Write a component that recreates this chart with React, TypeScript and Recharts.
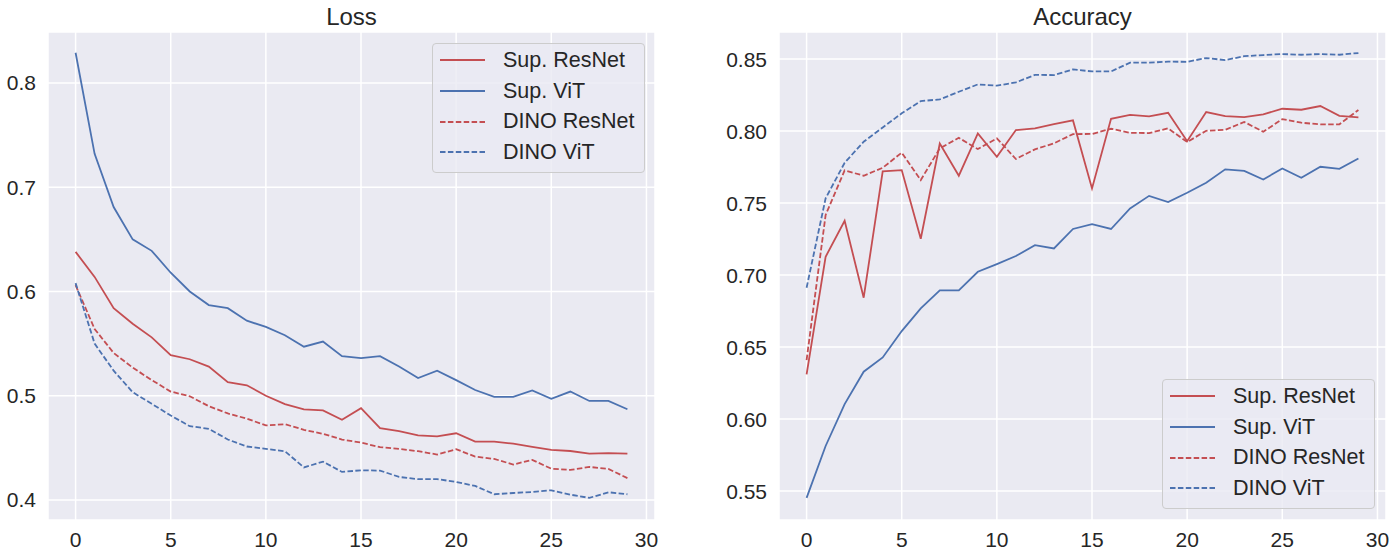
import { LineChart, Line, XAxis, YAxis, CartesianGrid, Legend } from 'recharts';

// epochs on the x axis
const epochs = [
  0, 1, 2, 3, 4, 5, 6, 7, 8, 9, 10, 11, 12, 13, 14, 15, 16, 17, 18, 19, 20, 21,
  22, 23, 24, 25, 26, 27, 28, 29,
];

const lossSupResNet = [
  0.638, 0.614, 0.584, 0.569, 0.556, 0.539, 0.535, 0.528, 0.513, 0.51, 0.5, 0.492,
  0.487, 0.486, 0.477, 0.488, 0.469, 0.466, 0.462, 0.461, 0.464, 0.456, 0.456,
  0.454, 0.451, 0.448, 0.447, 0.4445, 0.445, 0.4445,
];
const lossSupViT = [
  0.829, 0.732, 0.681, 0.65, 0.639, 0.618, 0.6, 0.587, 0.584, 0.572, 0.566, 0.558,
  0.547, 0.552, 0.538, 0.536, 0.538, 0.528, 0.517, 0.524, 0.515, 0.5055, 0.499,
  0.499, 0.505, 0.497, 0.504, 0.495, 0.495, 0.487,
];
const lossDinoResNet = [
  0.606, 0.564, 0.541, 0.527, 0.515, 0.504, 0.4995, 0.49, 0.483, 0.478, 0.4715,
  0.4727, 0.4673, 0.4635, 0.458, 0.455, 0.4507, 0.449, 0.4468, 0.4436, 0.4487,
  0.4416, 0.4394, 0.434, 0.4385, 0.43, 0.4288, 0.4317, 0.4298, 0.421,
];
const lossDinoViT = [
  0.608, 0.55, 0.524, 0.5034, 0.4923, 0.481, 0.4708, 0.4683, 0.458, 0.4513, 0.449,
  0.4468, 0.4312, 0.4368, 0.4269, 0.4285, 0.4282, 0.4221, 0.42, 0.42, 0.4173,
  0.4135, 0.4055, 0.4067, 0.4077, 0.4093, 0.4051, 0.402, 0.4074, 0.4055,
];

const accSupResNet = [
  0.631, 0.7127, 0.7377, 0.6843, 0.772, 0.7729, 0.7252, 0.7914, 0.769, 0.7984,
  0.7822, 0.8007, 0.8019, 0.8048, 0.8074, 0.7602, 0.8085, 0.8113, 0.8102, 0.8127,
  0.793, 0.8132, 0.8104, 0.8097, 0.8116, 0.8155, 0.8148, 0.8174, 0.8106, 0.8095,
];
const accSupViT = [
  0.5453, 0.5813, 0.6104, 0.6329, 0.6428, 0.6611, 0.6768, 0.6894, 0.6894, 0.7023,
  0.7076, 0.7132, 0.7208, 0.7185, 0.732, 0.7354, 0.732, 0.7463, 0.755, 0.7507,
  0.7572, 0.7641, 0.7734, 0.7724, 0.7664, 0.774, 0.7676, 0.7752, 0.7738, 0.781,
];
const accDinoResNet = [
  0.641, 0.7417, 0.7727, 0.769, 0.7745, 0.785, 0.766, 0.788, 0.7953, 0.7875,
  0.7949, 0.7806, 0.7873, 0.7915, 0.7979, 0.798, 0.8016, 0.7988, 0.7986, 0.8019,
  0.7924, 0.8002, 0.8009, 0.8063, 0.7995, 0.8083, 0.8058, 0.8046, 0.8047, 0.8146,
];
const accDinoViT = [
  0.6912, 0.7533, 0.778, 0.7926, 0.8025, 0.8123, 0.8208, 0.822, 0.8273, 0.8324,
  0.8315, 0.8338, 0.839, 0.8389, 0.8428, 0.8414, 0.8414, 0.8475, 0.8475, 0.8482,
  0.8481, 0.8507, 0.8493, 0.852, 0.8528, 0.8535, 0.853, 0.8535, 0.853, 0.8542,
];

const xTicks = [0, 5, 10, 15, 20, 25, 30];
const lossTicks = [0.4, 0.5, 0.6, 0.7, 0.8];
const accTicks = [0.55, 0.6, 0.65, 0.7, 0.75, 0.8, 0.85];
const seriesNames = ['Sup. ResNet', 'Sup. ViT', 'DINO ResNet', 'DINO ViT'];

const RED = '#C44E52';
const BLUE = '#4C72B0';
const TEXT = '#262626';
const FONT = '"Liberation Sans", Arial, sans-serif';

const seriesStyle = [
  { key: 's0', color: RED, dash: undefined },
  { key: 's1', color: BLUE, dash: undefined },
  { key: 's2', color: RED, dash: '5.5 2.4' },
  { key: 's3', color: BLUE, dash: '5.5 2.4' },
];

function buildRows(series: number[][]) {
  return epochs.map((epoch, i) => {
    const row: Record<string, number> = { epoch };
    series.forEach((vals, s) => {
      row[seriesStyle[s].key] = vals[i];
    });
    return row;
  });
}

const lossRows = buildRows([lossSupResNet, lossSupViT, lossDinoResNet, lossDinoViT]);
const accRows = buildRows([accSupResNet, accSupViT, accDinoResNet, accDinoViT]);

function LegendBox() {
  return (
    <div
      style={{
        boxSizing: 'border-box',
        width: 213,
        height: 130,
        paddingTop: 1,
        border: '1px solid #cccccc',
        borderRadius: 4,
        background: 'rgba(234,234,242,0.8)',
        fontFamily: FONT,
        fontSize: 21.5,
        color: TEXT,
      }}
    >
      {seriesStyle.map((s, i) => (
        <div
          key={s.key}
          style={{ height: 30.7, display: 'flex', alignItems: 'center' }}
        >
          <svg width={70} height={10} style={{ flex: 'none' }}>
            <line
              x1={7}
              x2={52}
              y1={5}
              y2={5}
              stroke={s.color}
              strokeWidth={1.8}
              strokeDasharray={s.dash}
            />
          </svg>
          <span style={{ whiteSpace: 'nowrap' }}>{seriesNames[i]}</span>
        </div>
      ))}
    </div>
  );
}

interface PanelProps {
  title: string;
  rows: Record<string, number>[];
  left: number;
  width: number;
  yAxisWidth: number;
  rightMargin: number;
  domain: [number, number];
  ticks: number[];
  digits: number;
  legendLeft: number;
  legendTop: number;
}

function Panel({
  title,
  rows,
  left,
  width,
  yAxisWidth,
  rightMargin,
  domain,
  ticks,
  digits,
  legendLeft,
  legendTop,
}: PanelProps) {
  const plotCenter = yAxisWidth + (width - yAxisWidth - rightMargin) / 2;
  return (
    <div style={{ position: 'absolute', left, top: 0, width, height: 557 }}>
      <div
        style={{
          position: 'absolute',
          left: plotCenter - 150,
          width: 300,
          top: 5,
          textAlign: 'center',
          fontFamily: FONT,
          fontSize: 24,
          lineHeight: '24px',
          color: TEXT,
        }}
      >
        {title}
      </div>
      <LineChart
        width={width}
        height={557}
        data={rows}
        margin={{ top: 32, right: rightMargin, bottom: 0, left: 0 }}
      >
        <CartesianGrid fill="#EAEAF2" stroke="#ffffff" strokeWidth={1.5} />
        <XAxis
          type="number"
          dataKey="epoch"
          domain={[-1.45, 30.45]}
          ticks={xTicks}
          allowDataOverflow
          tickLine={false}
          axisLine={false}
          height={37}
          tickMargin={6}
          tick={{ fontSize: 21, fill: TEXT, fontFamily: FONT }}
        />
        <YAxis
          type="number"
          domain={domain}
          ticks={ticks}
          allowDataOverflow
          tickLine={false}
          axisLine={false}
          width={yAxisWidth}
          tickMargin={6}
          tickFormatter={(v: number) => v.toFixed(digits)}
          tick={{ fontSize: 21, fill: TEXT, fontFamily: FONT }}
        />
        {seriesStyle.map((s, i) => (
          <Line
            key={s.key}
            type="linear"
            dataKey={s.key}
            name={seriesNames[i]}
            stroke={s.color}
            strokeWidth={1.8}
            strokeDasharray={s.dash}
            dot={false}
            activeDot={false}
            isAnimationActive={false}
          />
        ))}
        <Legend
          layout="horizontal"
          align="center"
          verticalAlign="middle"
          content={() => <LegendBox />}
          wrapperStyle={{ left: legendLeft, top: legendTop, width: 213, height: 130 }}
        />
      </LineChart>
    </div>
  );
}

export default function App() {
  return (
    <div
      style={{
        position: 'absolute',
        left: 0,
        top: 0,
        width: 1397,
        height: 557,
        background: '#ffffff',
      }}
    >
      <Panel
        title="Loss"
        rows={lossRows}
        left={0}
        width={700}
        yAxisWidth={48}
        rightMargin={45}
        domain={[0.3808, 0.8489]}
        ticks={lossTicks}
        digits={1}
        legendLeft={432}
        legendTop={43}
      />
      <Panel
        title="Accuracy"
        rows={accRows}
        left={700}
        width={697}
        yAxisWidth={79}
        rightMargin={11}
        domain={[0.5299, 0.8688]}
        ticks={accTicks}
        digits={2}
        legendLeft={462}
        legendTop={379}
      />
    </div>
  );
}
